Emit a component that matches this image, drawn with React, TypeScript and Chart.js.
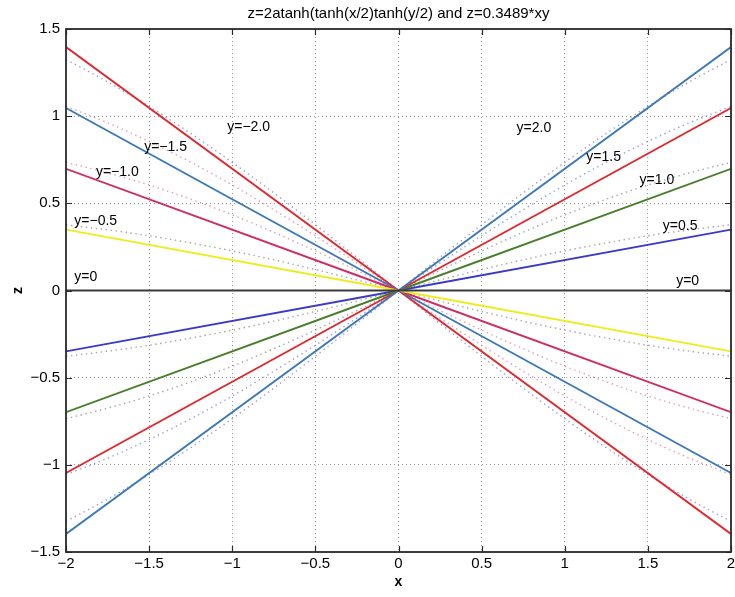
import React, { useEffect, useRef } from 'react';
import { Chart, registerables } from 'chart.js';

Chart.register(...registerables);

const TITLE = 'z=2atanh(tanh(x/2)tanh(y/2) and z=0.3489*xy';
const X_LABEL = 'x';
const Y_LABEL = 'z';

// straight lines z = 0.3489*x*y, sampled at x = -2, 0, 2
const lineX = [-2, 0, 2];
const line_y2 = [-1.396, 0, 1.396];
const line_y15 = [-1.047, 0, 1.047];
const line_y1 = [-0.698, 0, 0.698];
const line_y05 = [-0.349, 0, 0.349];
const line_y0 = [0, 0, 0];
const line_ym05 = [0.349, 0, -0.349];
const line_ym1 = [0.698, 0, -0.698];
const line_ym15 = [1.047, 0, -1.047];
const line_ym2 = [1.396, 0, -1.396];

// dotted curves z = 2atanh(tanh(x/2)tanh(y/2))
const curveX = [-2, -1.75, -1.5, -1.25, -1, -0.75, -0.5, -0.25, 0, 0.25, 0.5, 0.75, 1, 1.25, 1.5, 1.75, 2];
const curve_y2 = [-1.325, -1.197, -1.056, -0.901, -0.735, -0.56, -0.377, -0.19, 0, 0.19, 0.377, 0.56, 0.735, 0.901, 1.056, 1.197, 1.325];
const curve_y15 = [-1.056, -0.962, -0.855, -0.736, -0.605, -0.463, -0.314, -0.158, 0, 0.158, 0.314, 0.463, 0.605, 0.736, 0.855, 0.962, 1.056];
const curve_y1 = [-0.735, -0.675, -0.605, -0.524, -0.434, -0.334, -0.227, -0.115, 0, 0.115, 0.227, 0.334, 0.434, 0.524, 0.605, 0.675, 0.735];
const curve_y05 = [-0.377, -0.348, -0.314, -0.273, -0.227, -0.176, -0.12, -0.061, 0, 0.061, 0.12, 0.176, 0.227, 0.273, 0.314, 0.348, 0.377];
const curve_ym05 = [0.377, 0.348, 0.314, 0.273, 0.227, 0.176, 0.12, 0.061, 0, -0.061, -0.12, -0.176, -0.227, -0.273, -0.314, -0.348, -0.377];
const curve_ym1 = [0.735, 0.675, 0.605, 0.524, 0.434, 0.334, 0.227, 0.115, 0, -0.115, -0.227, -0.334, -0.434, -0.524, -0.605, -0.675, -0.735];
const curve_ym15 = [1.056, 0.962, 0.855, 0.736, 0.605, 0.463, 0.314, 0.158, 0, -0.158, -0.314, -0.463, -0.605, -0.736, -0.855, -0.962, -1.056];
const curve_ym2 = [1.325, 1.197, 1.056, 0.901, 0.735, 0.56, 0.377, 0.19, 0, -0.19, -0.377, -0.56, -0.735, -0.901, -1.056, -1.197, -1.325];

// text labels in data coordinates
const noteText = ['y=\u22122.0', 'y=\u22121.5', 'y=\u22121.0', 'y=\u22120.5', 'y=0', 'y=2.0', 'y=1.5', 'y=1.0', 'y=0.5', 'y=0'];
const noteX = [-1.03, -1.53, -1.82, -1.95, -1.95, 0.71, 1.13, 1.45, 1.59, 1.67];
const noteY = [0.935, 0.823, 0.68, 0.398, 0.077, 0.932, 0.766, 0.634, 0.37, 0.055];

const xTicks = [-2, -1.5, -1, -0.5, 0, 0.5, 1, 1.5, 2];
const yTicks = [-1.5, -1, -0.5, 0, 0.5, 1, 1.5];

const FONT = "'Liberation Sans', Arial, Helvetica, sans-serif";

const C_BLUE = '#3b78b5';
const C_RED = '#e0262b';
const C_GREEN = '#467f28';
const C_VIOLET = '#3a3ac8';
const C_BLACK = '#3a3a3a';
const C_YELLOW = '#eded1e';
const C_CRIMSON = '#d02c62';

const D_BLUE = 'rgba(90,90,190,0.6)';
const D_GRAY = 'rgba(90,90,100,0.55)';
const D_PINK = 'rgba(210,90,130,0.6)';

const pts = (xs: number[], ys: number[]) => xs.map((x, i) => ({ x, y: ys[i] }));
const fmt = (v: number) => (v < 0 ? '\u2212' : '') + String(Math.abs(v));

const framePlugin = {
  id: 'frameAndNotes',
  afterDatasetsDraw(chart: any) {
    const { ctx, chartArea } = chart;
    const { left, right, top, bottom } = chartArea;
    const xs = chart.scales.x;
    const ys = chart.scales.y;
    ctx.save();
    ctx.setLineDash([]);
    ctx.strokeStyle = '#2a2a2a';
    ctx.lineWidth = 1.2;
    ctx.beginPath();
    xTicks.forEach((t) => {
      const px = Math.round(xs.getPixelForValue(t)) + 0.5;
      ctx.moveTo(px, bottom);
      ctx.lineTo(px, bottom - 6);
      ctx.moveTo(px, top);
      ctx.lineTo(px, top + 6);
    });
    yTicks.forEach((t) => {
      const py = Math.round(ys.getPixelForValue(t)) + 0.5;
      ctx.moveTo(left, py);
      ctx.lineTo(left + 6, py);
      ctx.moveTo(right, py);
      ctx.lineTo(right - 6, py);
    });
    ctx.stroke();
    ctx.lineWidth = 1.8;
    ctx.strokeRect(left, top, right - left, bottom - top);

    ctx.fillStyle = '#000';
    ctx.font = `14px ${FONT}`;
    ctx.textAlign = 'left';
    ctx.textBaseline = 'middle';
    noteText.forEach((t, i) => {
      ctx.fillText(t, xs.getPixelForValue(noteX[i]), ys.getPixelForValue(noteY[i]));
    });
    ctx.restore();
  },
};

export default function App() {
  const ref = useRef<HTMLCanvasElement | null>(null);

  useEffect(() => {
    if (!ref.current) return;
    const solid = (data: number[], color: string) => ({
      data: pts(lineX, data),
      borderColor: color,
      borderWidth: 1.9,
      pointRadius: 0,
      fill: false,
      tension: 0,
    });
    const dotted = (data: number[], color: string) => ({
      data: pts(curveX, data),
      borderColor: color,
      borderWidth: 1.4,
      borderDash: [1.4, 3.6],
      pointRadius: 0,
      fill: false,
      cubicInterpolationMode: 'monotone' as const,
    });

    const chart = new Chart(ref.current, {
      type: 'line',
      data: {
        datasets: [
          solid(line_y0, C_BLACK),
          solid(line_y2, C_BLUE),
          solid(line_y15, C_RED),
          solid(line_y1, C_GREEN),
          solid(line_y05, C_VIOLET),
          solid(line_ym05, C_YELLOW),
          solid(line_ym1, C_CRIMSON),
          solid(line_ym15, C_BLUE),
          solid(line_ym2, C_RED),
          dotted(curve_y2, D_BLUE),
          dotted(curve_y15, D_BLUE),
          dotted(curve_y1, D_GRAY),
          dotted(curve_y05, D_GRAY),
          dotted(curve_ym05, D_GRAY),
          dotted(curve_ym1, D_PINK),
          dotted(curve_ym15, D_PINK),
          dotted(curve_ym2, D_BLUE),
        ] as any,
      },
      options: {
        responsive: false,
        animation: false,
        devicePixelRatio: 1,
        layout: { padding: { left: 0, right: 4, top: 0, bottom: 0 } },
        plugins: {
          legend: { display: false },
          tooltip: { enabled: false },
          title: {
            display: true,
            text: TITLE,
            fullSize: false,
            color: '#000',
            font: { family: FONT, size: 15, weight: 'normal' },
            padding: { top: 5, bottom: 6 },
          },
        },
        scales: {
          x: {
            type: 'linear',
            min: -2,
            max: 2,
            afterBuildTicks: (scale: any) => {
              scale.ticks = xTicks.map((v) => ({ value: v }));
            },
            afterFit: (scale: any) => {
              scale.height = 45;
              scale.paddingLeft = 0;
              scale.paddingRight = 0;
            },
            ticks: {
              color: '#000',
              padding: 3,
              maxRotation: 0,
              autoSkip: false,
              font: { family: FONT, size: 15 },
              callback: (v: any) => fmt(Number(v)),
            },
            grid: { color: '#9a9a9a', lineWidth: 1, drawTicks: false },
            border: { display: false, dash: [1, 3] },
            title: {
              display: true,
              text: X_LABEL,
              color: '#000',
              font: { family: FONT, size: 14, weight: 'bold' },
              padding: { top: 0, bottom: 6 },
            },
          },
          y: {
            type: 'linear',
            min: -1.5,
            max: 1.5,
            afterBuildTicks: (scale: any) => {
              scale.ticks = yTicks.map((v) => ({ value: v }));
            },
            afterFit: (scale: any) => {
              scale.width = 66;
              scale.paddingTop = 0;
              scale.paddingBottom = 0;
            },
            ticks: {
              color: '#000',
              padding: 6,
              autoSkip: false,
              font: { family: FONT, size: 15 },
              callback: (v: any) => fmt(Number(v)),
            },
            grid: { color: '#9a9a9a', lineWidth: 1, drawTicks: false },
            border: { display: false, dash: [1, 3] },
            title: {
              display: true,
              text: Y_LABEL,
              color: '#000',
              font: { family: FONT, size: 14, weight: 'bold' },
              padding: { top: 10, bottom: 0 },
            },
          },
        },
      },
      plugins: [framePlugin],
    });
    return () => chart.destroy();
  }, []);

  return (
    <div style={{ position: 'fixed', left: 0, top: 0, width: 735, height: 597, background: '#fff' }}>
      <canvas ref={ref} width={735} height={597} />
    </div>
  );
}
